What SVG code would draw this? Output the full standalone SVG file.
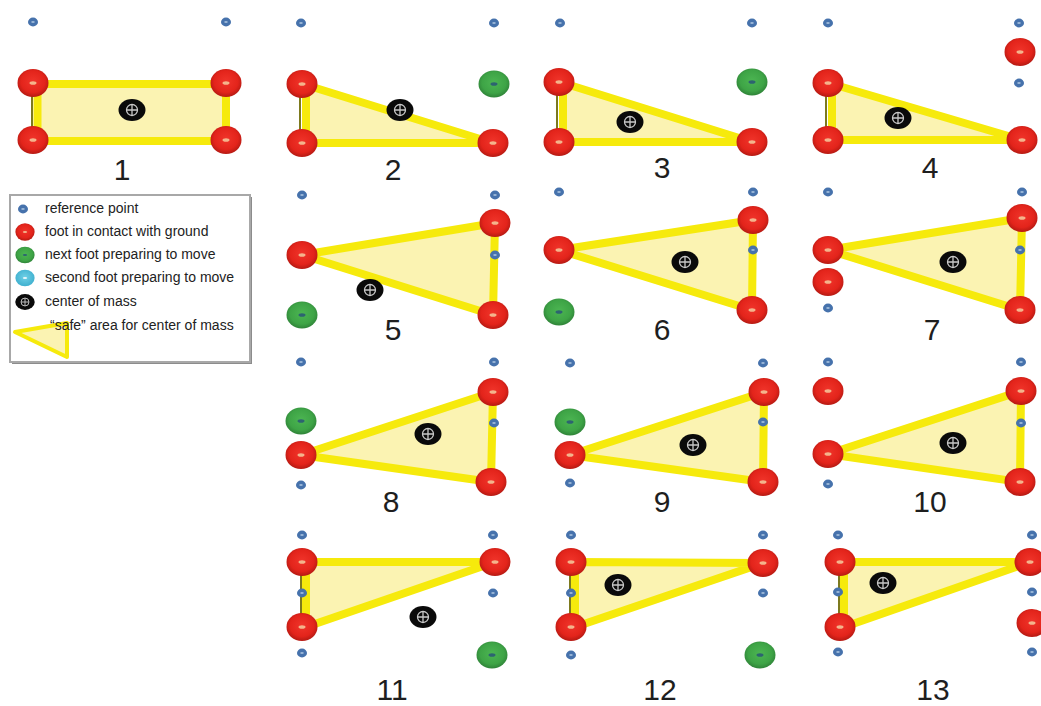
<svg xmlns="http://www.w3.org/2000/svg" width="1041" height="706" viewBox="0 0 1041 706">
  <style>
    .area { fill: #fbf3b2; stroke: #f6ea0c; stroke-width: 8; stroke-linejoin: round; }
    .edge { stroke: #7d7a1e; stroke-width: 2; }
    .num { font-family: "Liberation Sans", Arial, sans-serif; font-size: 30px; fill: #1e1e1e; text-anchor: middle; }
    .key { font-family: "Liberation Sans", Arial, sans-serif; font-size: 14px; fill: #222; }
  </style>
  <defs>
    <radialGradient id="gRed" cx="50%" cy="45%" r="55%">
      <stop offset="0" stop-color="#f0342a"/>
      <stop offset="0.7" stop-color="#e3241b"/>
      <stop offset="1" stop-color="#b51a13"/>
    </radialGradient>
    <radialGradient id="gGreen" cx="50%" cy="45%" r="55%">
      <stop offset="0" stop-color="#4cb552"/>
      <stop offset="0.7" stop-color="#3ea446"/>
      <stop offset="1" stop-color="#2f8338"/>
    </radialGradient>
    <radialGradient id="gCyan" cx="50%" cy="45%" r="55%">
      <stop offset="0" stop-color="#6fd0e6"/>
      <stop offset="1" stop-color="#3fb0cf"/>
    </radialGradient>
    <!-- foot in contact with ground -->
    <g id="foot">
      <ellipse rx="15.5" ry="14" fill="url(#gRed)"/>
      <ellipse rx="3.5" ry="1.8" fill="#f4b48c"/>
    </g>
    <!-- next foot preparing to move -->
    <g id="foot-next">
      <ellipse rx="15.5" ry="13.5" fill="url(#gGreen)"/>
      <ellipse rx="3.5" ry="1.8" fill="#2d6470"/>
    </g>
    <!-- second foot preparing to move -->
    <g id="foot-second">
      <ellipse rx="15.5" ry="13.5" fill="url(#gCyan)"/>
      <ellipse rx="3.5" ry="1.8" fill="#e8f6fa"/>
    </g>
    <!-- reference point -->
    <g id="ref">
      <ellipse rx="5" ry="4.4" fill="#4672ac"/>
      <ellipse rx="1.8" ry="1" fill="#9cb8d8"/>
    </g>
    <!-- center of mass -->
    <g id="com">
      <ellipse rx="13.5" ry="11" fill="#0a0a0a"/>
      <circle r="5.5" fill="none" stroke="#c8c8c8" stroke-width="1.3"/>
      <path d="M-5.5 0H5.5M0 -5.5V5.5" stroke="#c8c8c8" stroke-width="1.3"/>
    </g>
  </defs>

  <rect width="1041" height="706" fill="#ffffff"/>

  <!-- legend -->
  <g id="legend">
    <rect x="12" y="197" width="240" height="167" fill="#8c8c8c"/>
    <rect x="10" y="195" width="240" height="167" fill="#ffffff" stroke="#a8a8a8" stroke-width="2"/>
    <use href="#ref" transform="translate(23,209)"/>
    <text class="key" x="45" y="213">reference point</text>
    <use href="#foot" transform="translate(25,232) scale(0.62)"/>
    <text class="key" x="45" y="236">foot in contact with ground</text>
    <use href="#foot-next" transform="translate(25,255) scale(0.62)"/>
    <text class="key" x="45" y="259">next foot preparing to move</text>
    <use href="#foot-second" transform="translate(25,278) scale(0.62)"/>
    <text class="key" x="45" y="282">second foot preparing to move</text>
    <use href="#com" transform="translate(25,302) scale(0.72)"/>
    <text class="key" x="45" y="306">center of mass</text>
    <polygon points="15,332 67,323 67,357" fill="#fbf3b2" stroke="#f6ea0c" stroke-width="4" stroke-linejoin="round"/>
    <text class="key" x="50" y="330">“safe” area for center of mass</text>
  </g>

  <!-- panel 1 -->
  <g id="panel-1">
    <rect class="area" x="37.5" y="84" width="188.5" height="57"/>
    <line class="edge" x1="32" y1="83" x2="32" y2="141"/>
    <use href="#ref" x="33" y="22"/>
    <use href="#ref" x="226" y="22"/>
    <use href="#foot" x="33" y="83"/>
    <use href="#foot" x="226" y="83"/>
    <use href="#foot" x="33" y="140"/>
    <use href="#foot" x="226" y="140"/>
    <use href="#com" x="132" y="110"/>
    <text class="num" x="122" y="180">1</text>
  </g>

  <!-- panel 2 -->
  <g id="panel-2">
    <polygon class="area" points="306,85 306,143 493,143"/>
    <line class="edge" x1="300" y1="84" x2="300" y2="143"/>
    <use href="#ref" x="301" y="23"/>
    <use href="#ref" x="494" y="23"/>
    <use href="#foot" x="302" y="84"/>
    <use href="#foot" x="302" y="143"/>
    <use href="#foot" x="493" y="143"/>
    <use href="#foot-next" x="494" y="84"/>
    <use href="#com" x="400" y="110"/>
    <text class="num" x="393" y="180">2</text>
  </g>

  <!-- panel 3 -->
  <g id="panel-3">
    <polygon class="area" points="563,83 563,142 752,142"/>
    <line class="edge" x1="557" y1="82" x2="557" y2="142"/>
    <use href="#ref" x="560" y="23"/>
    <use href="#ref" x="752" y="23"/>
    <use href="#foot" x="559" y="82"/>
    <use href="#foot" x="559" y="142"/>
    <use href="#foot" x="752" y="142"/>
    <use href="#foot-next" x="752" y="82"/>
    <use href="#com" x="630" y="122"/>
    <text class="num" x="662" y="178">3</text>
  </g>

  <!-- panel 4 -->
  <g id="panel-4">
    <polygon class="area" points="832,84 832,140 1022,140"/>
    <line class="edge" x1="826" y1="83" x2="826" y2="140"/>
    <use href="#ref" x="828" y="23"/>
    <use href="#ref" x="1019" y="23"/>
    <use href="#ref" x="1019" y="83"/>
    <use href="#foot" x="1020" y="52"/>
    <use href="#foot" x="828" y="83"/>
    <use href="#foot" x="828" y="140"/>
    <use href="#foot" x="1022" y="140"/>
    <use href="#com" x="898" y="118"/>
    <text class="num" x="930" y="178">4</text>
  </g>

  <!-- panel 5 -->
  <g id="panel-5">
    <polygon class="area" points="302,255 495,223 493,315"/>
    <use href="#ref" x="302" y="195"/>
    <use href="#ref" x="495" y="195"/>
    <use href="#ref" x="495" y="255"/>
    <use href="#foot" x="302" y="255"/>
    <use href="#foot" x="495" y="223"/>
    <use href="#foot" x="493" y="315"/>
    <use href="#foot-next" x="302" y="315"/>
    <use href="#com" x="370" y="290"/>
    <text class="num" x="393" y="340">5</text>
  </g>

  <!-- panel 6 -->
  <g id="panel-6">
    <polygon class="area" points="559,250 753,220 752,310"/>
    <use href="#ref" x="559" y="192"/>
    <use href="#ref" x="753" y="192"/>
    <use href="#ref" x="753" y="250"/>
    <use href="#foot" x="559" y="250"/>
    <use href="#foot" x="753" y="220"/>
    <use href="#foot" x="752" y="310"/>
    <use href="#foot-next" x="559" y="312"/>
    <use href="#com" x="685" y="262"/>
    <text class="num" x="662" y="340">6</text>
  </g>

  <!-- panel 7 -->
  <g id="panel-7">
    <polygon class="area" points="828,250 1022,218 1020,310"/>
    <use href="#ref" x="828" y="192"/>
    <use href="#ref" x="1022" y="192"/>
    <use href="#ref" x="1020" y="250"/>
    <use href="#ref" x="828" y="308"/>
    <use href="#foot" x="828" y="250"/>
    <use href="#foot" x="828" y="282"/>
    <use href="#foot" x="1022" y="218"/>
    <use href="#foot" x="1020" y="310"/>
    <use href="#com" x="953" y="262"/>
    <text class="num" x="932" y="340">7</text>
  </g>

  <!-- panel 8 -->
  <g id="panel-8">
    <polygon class="area" points="301,455 493,392 491,482"/>
    <use href="#ref" x="301" y="362"/>
    <use href="#ref" x="494" y="362"/>
    <use href="#ref" x="494" y="423"/>
    <use href="#ref" x="301" y="485"/>
    <use href="#foot-next" x="301" y="421"/>
    <use href="#foot" x="301" y="455"/>
    <use href="#foot" x="493" y="392"/>
    <use href="#foot" x="491" y="482"/>
    <use href="#com" x="428" y="434"/>
    <text class="num" x="391" y="512">8</text>
  </g>

  <!-- panel 9 -->
  <g id="panel-9">
    <polygon class="area" points="570,455 764,392 763,482"/>
    <use href="#ref" x="570" y="363"/>
    <use href="#ref" x="763" y="363"/>
    <use href="#ref" x="763" y="422"/>
    <use href="#ref" x="570" y="483"/>
    <use href="#foot-next" x="570" y="422"/>
    <use href="#foot" x="570" y="455"/>
    <use href="#foot" x="764" y="392"/>
    <use href="#foot" x="763" y="482"/>
    <use href="#com" x="693" y="445"/>
    <text class="num" x="662" y="512">9</text>
  </g>

  <!-- panel 10 -->
  <g id="panel-10">
    <polygon class="area" points="828,454 1021,391 1020,482"/>
    <use href="#ref" x="828" y="362"/>
    <use href="#ref" x="1021" y="362"/>
    <use href="#ref" x="1021" y="423"/>
    <use href="#ref" x="828" y="484"/>
    <use href="#foot" x="828" y="391"/>
    <use href="#foot" x="828" y="454"/>
    <use href="#foot" x="1021" y="391"/>
    <use href="#foot" x="1020" y="482"/>
    <use href="#com" x="953" y="443"/>
    <text class="num" x="930" y="512">10</text>
  </g>

  <!-- panel 11 -->
  <g id="panel-11">
    <polygon class="area" points="306,562 495,562 306,627"/>
    <line class="edge" x1="301" y1="562" x2="301" y2="627"/>
    <use href="#ref" x="302" y="535"/>
    <use href="#ref" x="493" y="535"/>
    <use href="#ref" x="302" y="593"/>
    <use href="#ref" x="493" y="593"/>
    <use href="#ref" x="302" y="653"/>
    <use href="#foot" x="302" y="562"/>
    <use href="#foot" x="495" y="562"/>
    <use href="#foot" x="302" y="627"/>
    <use href="#foot-next" x="492" y="655"/>
    <use href="#com" x="423" y="617"/>
    <text class="num" x="392" y="700">11</text>
  </g>

  <!-- panel 12 -->
  <g id="panel-12">
    <polygon class="area" points="575,562 763,563 575,627"/>
    <line class="edge" x1="570" y1="562" x2="570" y2="627"/>
    <use href="#ref" x="571" y="535"/>
    <use href="#ref" x="763" y="535"/>
    <use href="#ref" x="571" y="593"/>
    <use href="#ref" x="763" y="593"/>
    <use href="#ref" x="571" y="655"/>
    <use href="#foot" x="571" y="562"/>
    <use href="#foot" x="763" y="563"/>
    <use href="#foot" x="571" y="627"/>
    <use href="#foot-next" x="760" y="655"/>
    <use href="#com" x="618" y="585"/>
    <text class="num" x="660" y="700">12</text>
  </g>

  <!-- panel 13 -->
  <g id="panel-13">
    <polygon class="area" points="844,562 1030,562 844,627"/>
    <line class="edge" x1="839" y1="562" x2="839" y2="627"/>
    <use href="#ref" x="838" y="535"/>
    <use href="#ref" x="1032" y="535"/>
    <use href="#ref" x="838" y="592"/>
    <use href="#ref" x="1032" y="592"/>
    <use href="#ref" x="838" y="652"/>
    <use href="#ref" x="1032" y="652"/>
    <use href="#foot" x="840" y="562"/>
    <use href="#foot" x="1030" y="562"/>
    <use href="#foot" x="840" y="627"/>
    <use href="#foot" x="1032" y="623"/>
    <use href="#com" x="883" y="583"/>
    <text class="num" x="933" y="700">13</text>
  </g>

  <!-- no connectors in this figure -->
  <g id="connectors"/>
</svg>
